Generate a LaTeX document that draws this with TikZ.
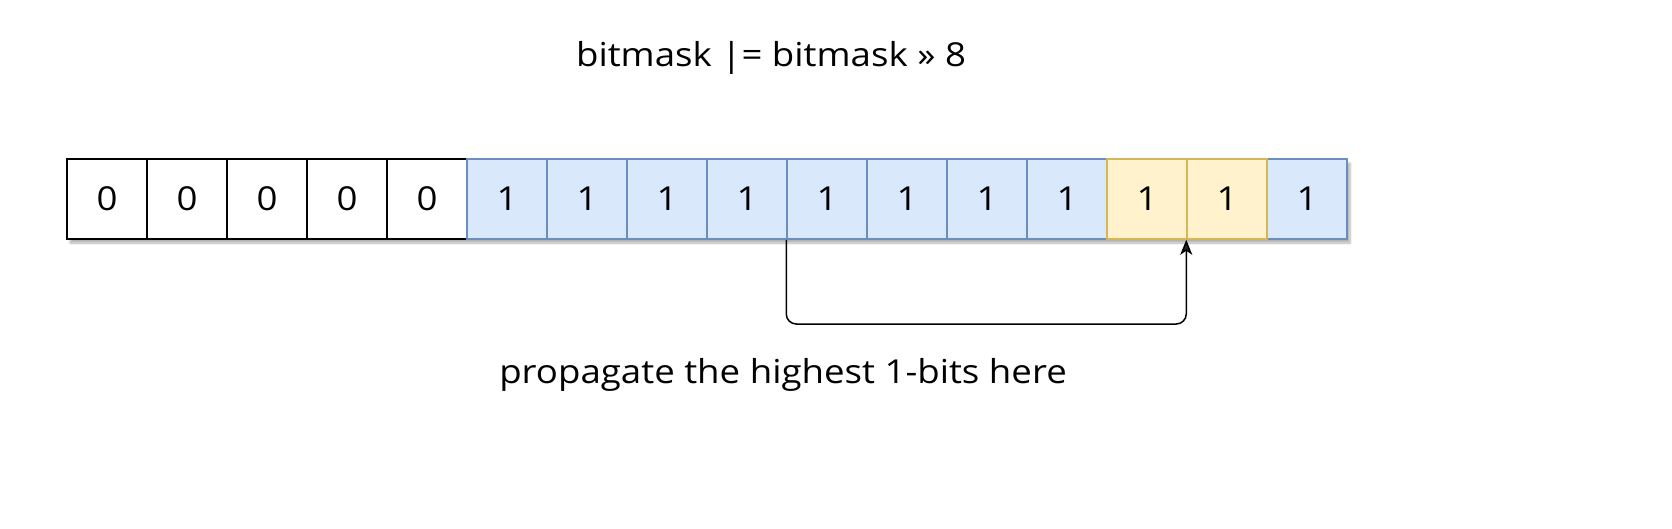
\documentclass[tikz,border=0pt]{standalone}
\usepackage{fontspec}
\setmainfont{Open Sans}[FakeStretch=1.11]
\usetikzlibrary{arrows.meta,shadows.blur}
\definecolor{bluefill}{HTML}{DAE8FC}
\definecolor{bluedraw}{HTML}{6C8EBF}
\definecolor{yelfill}{HTML}{FFF2CC}
\definecolor{yeldraw}{HTML}{D6B656}
\tikzset{
  cell/.style={draw, line width=1.5pt, minimum width=80pt, minimum height=80pt, inner sep=0pt, font=\fontsize{33}{38}\selectfont},
  zerocell/.style={cell, draw=black, fill=white},
  bluecell/.style={cell, draw=bluedraw, fill=bluefill},
  yelcell/.style={cell, draw=yeldraw, fill=yelfill},
  label/.style={inner sep=0pt, font=\fontsize{33}{38}\selectfont},
  conn/.style={line width=1.5pt, rounded corners=10pt, -{Stealth[length=15pt,width=12pt,inset=4pt]}}
}
\begin{document}
\begin{tikzpicture}[x=1pt,y=-1pt]
\useasboundingbox (0,0) rectangle (1672,528);
% shadow under the row
\path[blur shadow={shadow xshift=3pt, shadow yshift=-4pt, shadow blur steps=6, shadow opacity=30}] (67,159) rectangle (1347,239);
% zero cells
\foreach \i in {1,...,5}{
  \node[zerocell] (c\i) at ({67+80*\i-40},199) {0};
}
% blue cells
\foreach \i in {6,...,13,16}{
  \node[bluecell] (c\i) at ({67+80*\i-40},199) {1};
}
% yellow cells
\foreach \i in {14,15}{
  \node[yelcell] (c\i) at ({67+80*\i-40},199) {1};
}
\node[label] (title) at (771,58) {bitmask |= bitmask \textgreater\textgreater{} 8};
\node[label] (note) at (783,375) {propagate the highest 1-bits here};
\coordinate (turn) at (0,324);
\draw[conn] (c10.south west) -- (c10.south west |- turn) -- (c15.south west |- turn) -- (c15.south west);
\end{tikzpicture}
\end{document}
